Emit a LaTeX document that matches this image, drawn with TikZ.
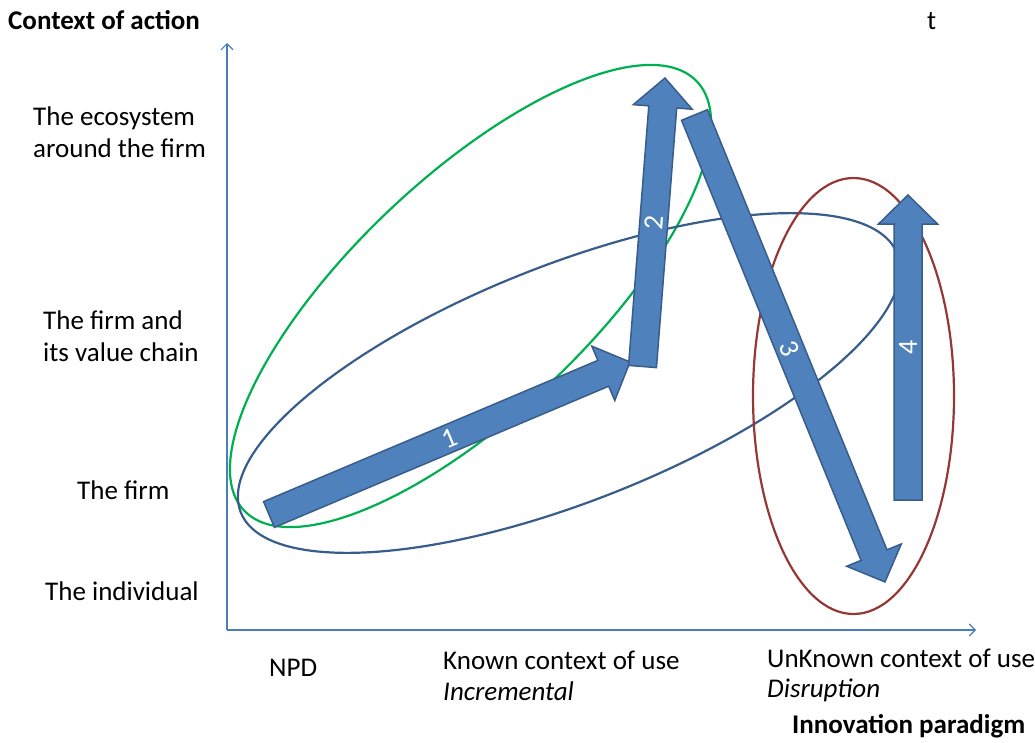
\documentclass[tikz,border=0pt]{standalone}
\usepackage{fontspec}
\setmainfont{Carlito}
\usetikzlibrary{arrows.meta}
\definecolor{axisblue}{HTML}{4A7EBB}
\definecolor{arrfill}{HTML}{4F81BD}
\definecolor{arrline}{HTML}{385D8A}
\definecolor{ellgreen}{HTML}{00B050}
\definecolor{ellblue}{HTML}{385D8A}
\definecolor{ellred}{HTML}{953735}
\tikzset{
  axisline/.style={draw=axisblue, line width=1.1pt, -{Straight Barb[length=6pt,width=12pt,line width=1.1pt]}},
  ell/.style={line width=2.2pt},
  arrowbox/.style={fill=arrfill, draw=arrline, line width=1.5pt, line join=miter},
  arrlbl/.style={text=white, font=\fontsize{28}{30}\selectfont, inner sep=0pt},
  lbl/.style={font=\fontsize{27}{32}\selectfont, inner sep=0pt, anchor=base west, align=left},
  blbl/.style={lbl, font=\fontsize{27}{32}\selectfont\bfseries},
  ilbl/.style={lbl, font=\fontsize{27}{32}\selectfont\itshape}
}
% name, tail x, tail y, tip x, tip y, label
\newcommand\blockarr[6]{%
  \pgfmathsetmacro\bdx{#4-#2}%
  \pgfmathsetmacro\bdy{#3-#5}%
  \pgfmathsetmacro\blen{veclen(\bdx,\bdy)}%
  \pgfmathsetmacro\bang{atan2(\bdy,\bdx)}%
  \begin{scope}[shift={(#2,#3)}, rotate=\bang]
    \draw[arrowbox] (0,-14) -- (\blen-29,-14) -- (\blen-29,-29.5) -- (\blen,0)
      -- (\blen-29,29.5) -- (\blen-29,14) -- (0,14) -- cycle;
    \node[arrlbl, rotate=\bang] (#1) at (\blen/2,0) {#6};
  \end{scope}}
\begin{document}
\begin{tikzpicture}[x=1pt, y=-1pt]
\useasboundingbox (0,0) rectangle (1035,742);
% axes
\coordinate (O) at (227,630);
\coordinate (ytop) at (227,43);
\coordinate (xend) at (976,630);
\draw[axisline] (O) -- (ytop);
\draw[axisline] (O) -- (xend);
% ellipses
\draw[ell, ellgreen, rotate around={43.46:(470.5,296)}] (470.5,296) ellipse [x radius=311.9, y radius=118.1];
\draw[ell, ellblue, rotate around={21.5:(569,383)}] (569,383) ellipse [x radius=352.8, y radius=118.4];
\draw[ell, ellred] (853.5,396) ellipse [x radius=100.5, y radius=218];
% block arrows
\blockarr{a1}{269}{514.5}{630}{362}{1}
\blockarr{a2}{642.5}{366.5}{665}{78}{2}
\blockarr{a3}{694.5}{115}{885}{582}{3}
\blockarr{a4}{908}{500}{908}{195}{4}
% texts
\node[blbl] (ctx) at (8,29) {Context of action};
\node[lbl] (t) at (927,29) {t};
\node[lbl] (eco) at (33,157) {The ecosystem\\around the firm};
\node[lbl] (chain) at (43,361) {The firm and\\its value chain};
\node[lbl] (firm) at (77,499) {The firm};
\node[lbl] (indiv) at (45,600) {The individual};
\node[lbl] (npd) at (269,676) {NPD};
\node[lbl] (known) at (443,669) {Known context of use};
\node[ilbl] (incr) at (443,700) {Incremental};
\node[lbl] (unknown) at (767,667) {UnKnown context of use};
\node[ilbl] (disr) at (767,697) {Disruption};
\node[blbl] (innov) at (792,733) {Innovation paradigm};
\end{tikzpicture}
\end{document}
